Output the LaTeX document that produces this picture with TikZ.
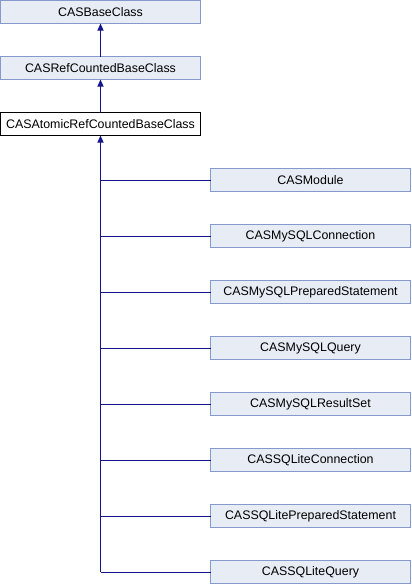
\documentclass[tikz,border=0pt]{standalone}
\usepackage{fontspec}
\setmainfont{Liberation Sans}
\usetikzlibrary{positioning,arrows.meta}

\definecolor{boxfill}{RGB}{232,236,245}
\definecolor{boxline}{RGB}{132,154,204}
\definecolor{edgeblue}{RGB}{20,20,140}

\tikzset{
    classbox/.style={draw=boxline, fill=boxfill, line width=1pt, minimum width=200pt,
        minimum height=23pt, inner sep=0pt, outer sep=0pt, font=\fontsize{12.4}{12.4}\selectfont},
    curbox/.style={classbox, draw=black, fill=white},
    inherit/.style={draw=edgeblue, line width=1pt, -{Triangle[length=7pt,width=6pt]}},
    branch/.style={draw=edgeblue, line width=1pt}
}

\begin{document}
\begin{tikzpicture}[x=1pt,y=-1pt]
\useasboundingbox (0,0) rectangle (412,584);

\node[classbox, anchor=north west] (base) at (0.5,0.5) {CASBaseClass};
\node[classbox] (refc) [below=33pt of base] {CASRefCountedBaseClass};
\node[curbox] (atomic) [below=33pt of refc] {CASAtomicRefCountedBaseClass};

\node[classbox] (module) [below right=33pt and 10pt of atomic] {CASModule};
\node[classbox] (myconn) [below=33pt of module] {CASMySQLConnection};
\node[classbox] (myprep) [below=33pt of myconn] {CASMySQLPreparedStatement};
\node[classbox] (myquery) [below=33pt of myprep] {CASMySQLQuery};
\node[classbox] (myres) [below=33pt of myquery] {CASMySQLResultSet};
\node[classbox] (liteconn) [below=33pt of myres] {CASSQLiteConnection};
\node[classbox] (liteprep) [below=33pt of liteconn] {CASSQLitePreparedStatement};
\node[classbox] (litequery) [below=33pt of liteprep] {CASSQLiteQuery};

\draw[inherit] (refc) -- (base);
\draw[inherit] (atomic) -- (refc);

% trunk and branches
\draw[inherit] (atomic.south |- litequery.west) -- (atomic.south);
\foreach \n in {module,myconn,myprep,myquery,myres,liteconn,liteprep,litequery}
    \draw[branch] (atomic.south |- \n.west) -- (\n.west);

\end{tikzpicture}
\end{document}
